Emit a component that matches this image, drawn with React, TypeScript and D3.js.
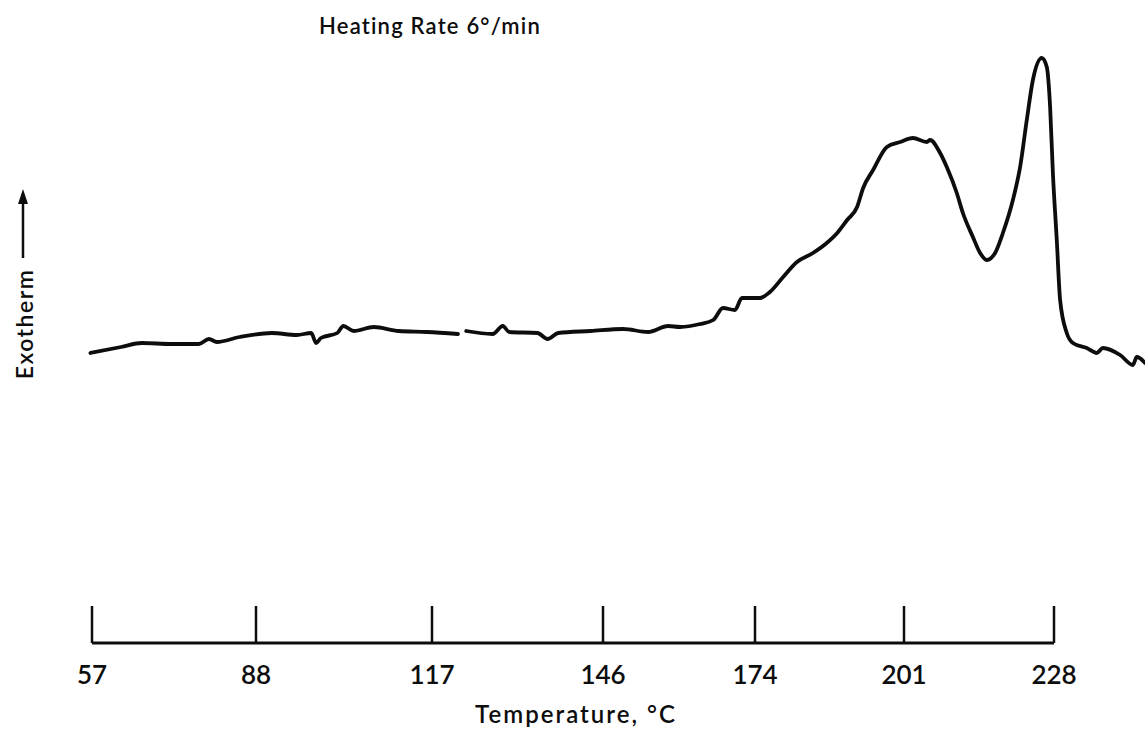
import React from "react";
import * as d3 from "d3";

// Temperature tick labels (°C) of the x axis
const tickValues = [57, 88, 117, 146, 174, 201, 228];

// Recorded trace: temperature (°C) and exotherm signal (arbitrary units); null = pen gap
const temperature = [
  56.7, 62.5, 66.4, 72.0, 77.2, 79.1, 80.6, 84.9, 90.6, 94.7, 97.1, 97.9, 98.7,
  101.4, 102.4, 104.1, 107.4, 111.5, 116.2, 121.4, 121.8, 122.8, 127.3, 129.0,
  130.1, 134.9, 136.6, 138.4, 143.9, 149.7, 154.3, 158.0, 160.2, 163.9, 166.3,
  168.1, 170.3, 171.6, 174.9, 176.7, 179.1, 181.6, 184.5, 187.0, 188.9, 190.7,
  192.5, 193.6, 195.4, 197.9, 200.3, 202.6, 205.1, 205.7, 207.5, 208.7, 210.5,
  211.6, 213.4, 214.7, 215.9, 217.4, 218.8, 220.6, 221.9, 223.1, 224.2, 225.8,
  226.7, 227.3, 227.8, 228.5, 229.1, 230.3, 231.4, 233.9, 235.7, 236.8, 239.9,
  242.2, 242.9, 244.4,
];
const signal: (number | null)[] = [
  47, 53, 57, 56, 56, 61, 58, 63, 67, 65, 67, 57, 62,
  67, 74, 69, 73, 69, 68, 66, null, 69, 66, 74,
  68, 67, 61, 67, 69, 71, 68, 74, 73, 76, 80,
  92, 90, 102, 102, 108, 123, 138, 147, 157, 167, 180,
  193, 212, 230, 253, 258, 262, 258, 260, 247, 233, 207,
  187, 163, 147, 140, 147, 167, 200, 233, 280, 320, 342,
  333, 293, 227, 160, 100, 67, 57, 52, 47, 52, 45,
  35, 43, 37,
];

const W = 1145;
const H = 731;
const FONT = "Lato, 'Open Sans', 'DejaVu Sans', sans-serif";
const INK = "#0d0d0d";

export default function App() {
  // recorder chart paper: tick spacing is not uniform
  const x = d3
    .scaleLinear()
    .domain(tickValues)
    .range([92, 256, 432, 603, 755, 904, 1054]);
  const y = d3.scaleLinear().domain([0, 350]).range([400, 50]);

  const pts = temperature.map((t, i) => ({ t, v: signal[i] }));
  const line = d3
    .line<{ t: number; v: number | null }>()
    .defined((d) => d.v !== null)
    .x((d) => x(d.t))
    .y((d) => y(d.v as number))
    .curve(d3.curveMonotoneX);

  const axisY = 643;
  const tickTop = 606;
  const x0 = x(tickValues[0]);
  const x1 = x(tickValues[tickValues.length - 1]);

  return (
    <svg
      width={W}
      height={H}
      style={{ position: "absolute", left: 0, top: 0, background: "#fff" }}
    >
      <text
        x={319}
        y={34}
        fontFamily={FONT}
        fontSize={22}
        fontWeight={600}
        letterSpacing={1.2}
        fill={INK}
      >
        Heating Rate 6°/min
      </text>

      {/* y label with arrow */}
      <text
        transform={`translate(33, 324) rotate(-90)`}
        textAnchor="middle"
        fontFamily={FONT}
        fontSize={23}
        fontWeight={600}
        letterSpacing={1.5}
        fill={INK}
      >
        Exotherm
      </text>
      <line x1={23} x2={23} y1={258} y2={200} stroke={INK} strokeWidth={2.5} />
      <path d="M23,189 L18,204 L28,204 Z" fill={INK} />

      {/* trace */}
      <path
        d={line(pts) ?? ""}
        fill="none"
        stroke={INK}
        strokeWidth={3.8}
        strokeLinejoin="round"
        strokeLinecap="round"
      />

      {/* x axis */}
      <line x1={x0} x2={x1} y1={axisY} y2={axisY} stroke={INK} strokeWidth={3} />
      {tickValues.map((t) => (
        <g key={t}>
          <line
            x1={x(t)}
            x2={x(t)}
            y1={tickTop}
            y2={axisY}
            stroke={INK}
            strokeWidth={2.5}
          />
          <text
            x={x(t)}
            y={684}
            textAnchor="middle"
            fontFamily={FONT}
            fontSize={26}
            fontWeight={600}
            fill={INK}
          >
            {t}
          </text>
        </g>
      ))}
      <text
        x={576}
        y={723}
        textAnchor="middle"
        fontFamily={FONT}
        fontSize={24}
        fontWeight={600}
        letterSpacing={2}
        fill={INK}
      >
        Temperature,  °C
      </text>
    </svg>
  );
}
